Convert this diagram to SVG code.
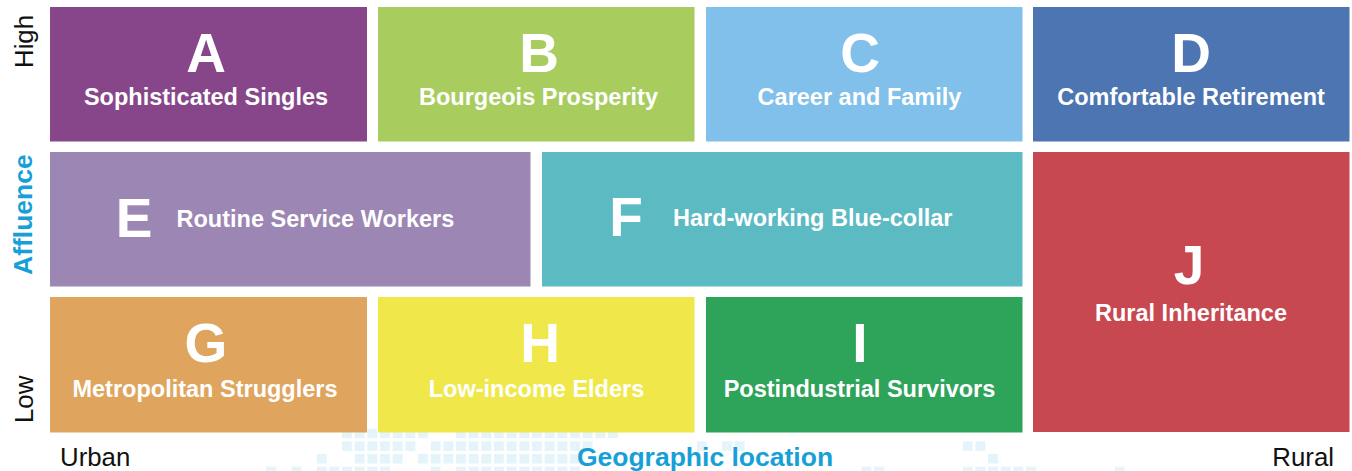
<svg xmlns="http://www.w3.org/2000/svg" width="1352" height="471" viewBox="0 0 1352 471">
  <style>
    .letter { font-family: "Liberation Sans", Arial, sans-serif; font-weight: bold; font-size: 55px; fill: #ffffff; text-anchor: middle; }
    .label { font-family: "Liberation Sans", Arial, sans-serif; font-weight: bold; font-size: 23.5px; fill: #ffffff; text-anchor: middle; }
    .label-l { font-family: "Liberation Sans", Arial, sans-serif; font-weight: bold; font-size: 23.5px; fill: #ffffff; }
    .axis { font-family: "Liberation Sans", Arial, sans-serif; font-size: 25.8px; fill: #111111; }
    .axis-title { font-family: "Liberation Sans", Arial, sans-serif; font-weight: bold; font-size: 26.5px; fill: #17a0d7; }
    .cell-run { fill: url(#cells); }
  </style>
  <defs>
    <!-- faint pixel grid used behind the bottom axis -->
    <pattern id="cells" x="266" y="428.5" width="12.667" height="12.667" patternUnits="userSpaceOnUse">
      <rect width="10" height="10" fill="#e5f4fa"/>
    </pattern>
  </defs>

  <rect width="1352" height="471" fill="#ffffff"/>

  <!-- decorative pixel background -->
  <g id="pixel-grid">
    <rect class="cell-run" x="342" y="428.5" width="88.67" height="10"/>
    <rect class="cell-run" x="456" y="428.5" width="164.67" height="10"/>

    <rect class="cell-run" x="342" y="441.17" width="76" height="10"/>
    <rect class="cell-run" x="430.67" y="441.17" width="164.67" height="10"/>
    <rect class="cell-run" x="696.67" y="441.17" width="12.667" height="10"/>
    <rect class="cell-run" x="722" y="441.17" width="25.33" height="10"/>
    <rect class="cell-run" x="962.67" y="441.17" width="25.33" height="10"/>

    <rect class="cell-run" x="316.67" y="453.83" width="12.667" height="10"/>
    <rect class="cell-run" x="354.67" y="453.83" width="50.67" height="10"/>
    <rect class="cell-run" x="418" y="453.83" width="164.67" height="10"/>
    <rect class="cell-run" x="988" y="453.83" width="12.667" height="10"/>

    <rect class="cell-run" x="266" y="466.5" width="12.667" height="10"/>
    <rect class="cell-run" x="291.33" y="466.5" width="12.667" height="10"/>
    <rect class="cell-run" x="316.67" y="466.5" width="76" height="10"/>
    <rect class="cell-run" x="430.67" y="466.5" width="12.667" height="10"/>
    <rect class="cell-run" x="456" y="466.5" width="126.67" height="10"/>
    <rect class="cell-run" x="861.33" y="466.5" width="25.33" height="10"/>
    <rect class="cell-run" x="962.67" y="466.5" width="76" height="10"/>
    <rect class="cell-run" x="1114.67" y="466.5" width="12.667" height="10"/>
  </g>

  <!-- row 1 -->
  <g id="node-A">
    <rect x="50" y="7" width="317" height="134.5" fill="#87468a"/>
    <text class="letter" x="206" y="72">A</text>
    <text class="label" x="206" y="105">Sophisticated Singles</text>
  </g>
  <g id="node-B">
    <rect x="378" y="7" width="316.5" height="134.5" fill="#a8cd5e"/>
    <text class="letter" x="539" y="72">B</text>
    <text class="label" x="538.5" y="105">Bourgeois Prosperity</text>
  </g>
  <g id="node-C">
    <rect x="706" y="7" width="316.5" height="134.5" fill="#81c0ea"/>
    <text class="letter" x="860" y="72">C</text>
    <text class="label" x="859.5" y="105">Career and Family</text>
  </g>
  <g id="node-D">
    <rect x="1033" y="7" width="316.5" height="134.5" fill="#4c75b1"/>
    <text class="letter" x="1191" y="72">D</text>
    <text class="label" x="1191" y="105">Comfortable Retirement</text>
  </g>

  <!-- row 2 -->
  <g id="node-E">
    <rect x="50" y="152" width="480.5" height="134.5" fill="#9c86b4"/>
    <text class="letter" x="134" y="236.5">E</text>
    <text class="label-l" x="176.5" y="227">Routine Service Workers</text>
  </g>
  <g id="node-F">
    <rect x="542" y="152" width="480.5" height="134.5" fill="#5cbac3"/>
    <text class="letter" x="626" y="236">F</text>
    <text class="label-l" x="673" y="226">Hard-working Blue-collar</text>
  </g>
  <g id="node-J">
    <rect x="1033" y="152" width="316.5" height="280" fill="#c84851"/>
    <text class="letter" x="1189" y="284">J</text>
    <text class="label" x="1191" y="321">Rural Inheritance</text>
  </g>

  <!-- row 3 -->
  <g id="node-G">
    <rect x="50" y="297" width="317" height="135.5" fill="#dfa55e"/>
    <text class="letter" x="206" y="362">G</text>
    <text class="label" x="205" y="396.5">Metropolitan Strugglers</text>
  </g>
  <g id="node-H">
    <rect x="378" y="297" width="316.5" height="135.5" fill="#f0e84a"/>
    <text class="letter" x="540" y="362">H</text>
    <text class="label" x="536.5" y="396.5">Low-income Elders</text>
  </g>
  <g id="node-I">
    <rect x="706" y="297" width="316.5" height="135.5" fill="#2ea35a"/>
    <text class="letter" x="860" y="362">I</text>
    <text class="label" x="859.5" y="396.5">Postindustrial Survivors</text>
  </g>

  <!-- axes -->
  <g id="axis-affluence">
    <text class="axis" transform="translate(33,68) rotate(-90)">High</text>
    <text class="axis-title" transform="translate(31.5,275) rotate(-90)">Affluence</text>
    <text class="axis" transform="translate(33,423) rotate(-90)">Low</text>
  </g>
  <g id="axis-geography">
    <text class="axis" x="60" y="466">Urban</text>
    <text class="axis-title" x="705" y="466" text-anchor="middle">Geographic location</text>
    <text class="axis" x="1334" y="466" text-anchor="end">Rural</text>
  </g>

  <g id="connectors"/>
</svg>
